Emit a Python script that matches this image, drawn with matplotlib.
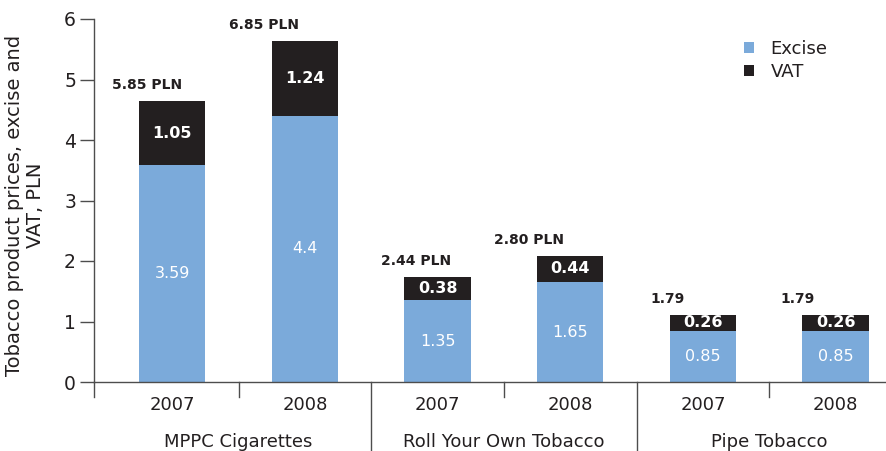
import matplotlib
matplotlib.use("Agg")
import matplotlib.pyplot as plt
from matplotlib.patches import Patch
from matplotlib.lines import Line2D

plt.rcParams['font.family'] = ['DejaVu Sans']

groups = ["MPPC Cigarettes", "Roll Your Own Tobacco", "Pipe Tobacco"]
years = ["2007", "2008", "2007", "2008", "2007", "2008"]
excise = [3.59, 4.4, 1.35, 1.65, 0.85, 0.85]
vat = [1.05, 1.24, 0.38, 0.44, 0.26, 0.26]
excise_labels = ["3.59", "4.4", "1.35", "1.65", "0.85", "0.85"]
vat_labels = ["1.05", "1.24", "0.38", "0.44", "0.26", "0.26"]
total_labels = ["5.85 PLN", "6.85 PLN", "2.44 PLN", "2.80 PLN", "1.79", "1.79"]
yticks = [0, 1, 2, 3, 4, 5, 6]

# layout-only: horizontal offset (px) of total labels relative to bar centre
total_dx = [-25, -41, -22, -41, -35, -38]

BLUE = "#7BAADA"
DARK = "#231F20"
AX = "#4D4D4D"
TXT = "#231F20"

W, H = 886, 451
fig = plt.figure(figsize=(W / 100, H / 100), dpi=100)
ax = fig.add_axes([94 / W, (H - 382) / H, (W - 94) / W, (382 - 19) / H])

x = list(range(len(years)))
ax.bar(x, excise, width=0.5, color=BLUE, label="Excise", zorder=2)
tops = [e + v for e, v in zip(excise, vat)]
ax.bar(x, vat, bottom=excise, width=0.5, color=DARK, label="VAT", zorder=2)

for i in x:
    ax.text(i, excise[i] / 2, excise_labels[i], ha="center", va="center",
            color="white", fontsize=11.5)
    ax.text(i, excise[i] + vat[i] / 2, vat_labels[i], ha="center", va="center",
            color="white", fontsize=11.5, fontweight="bold")
    ax.annotate(total_labels[i], xy=(i, tops[i]), xytext=(total_dx[i] * 0.72, 11.5),
                textcoords="offset points", ha="center", va="center",
                color=TXT, fontsize=10, fontweight="bold")

XL = (-0.59, 5.38)
ax.set_xlim(*XL)
ax.set_ylim(0, 6)
ax.set_yticks(yticks)
ax.set_yticklabels([str(t) for t in yticks], fontsize=13.5, color=TXT)
ax.tick_params(axis="y", length=10, width=1, color=AX, pad=3)

ax.set_xticks(x)
ax.set_xticklabels(years, fontsize=13, color=TXT)
ax.tick_params(axis="x", length=0, pad=10)

for s in ["top", "right"]:
    ax.spines[s].set_visible(False)
for s in ["left", "bottom"]:
    ax.spines[s].set_color(AX)
    ax.spines[s].set_linewidth(1)

# multi-level category axis separators
trans = ax.get_xaxis_transform()
for b in [XL[0], 0.5, 2.5, 4.5]:
    ax.add_line(Line2D([b, b], [0, -0.04], transform=trans, color=AX, lw=1, clip_on=False))
for b in [1.5, 3.5]:
    ax.add_line(Line2D([b, b], [0, -0.2], transform=trans, color=AX, lw=1, clip_on=False))
for gi, g in enumerate(groups):
    ax.text(gi * 2 + 0.5, -0.165, g, transform=trans, ha="center", va="center",
            fontsize=13, color=TXT)

fig.text(25 / W, (H - 205) / H, "Tobacco product prices, excise and\nVAT, PLN",
         rotation=90, ha="center", va="center", multialignment="center",
         fontsize=14, color=TXT, linespacing=1.1)

handles = [Patch(facecolor=BLUE, edgecolor="none"), Patch(facecolor=DARK, edgecolor="none")]
leg = ax.legend(handles, ["Excise", "VAT"], loc="upper left",
                bbox_to_anchor=(728 / W, (H - 24) / H), bbox_transform=fig.transFigure,
                frameon=False, fontsize=13, handlelength=0.55, handleheight=0.55,
                handletextpad=0.9, labelspacing=0.25)
for t in leg.get_texts():
    t.set_color(TXT)

fig.savefig("out.png", dpi=100)
